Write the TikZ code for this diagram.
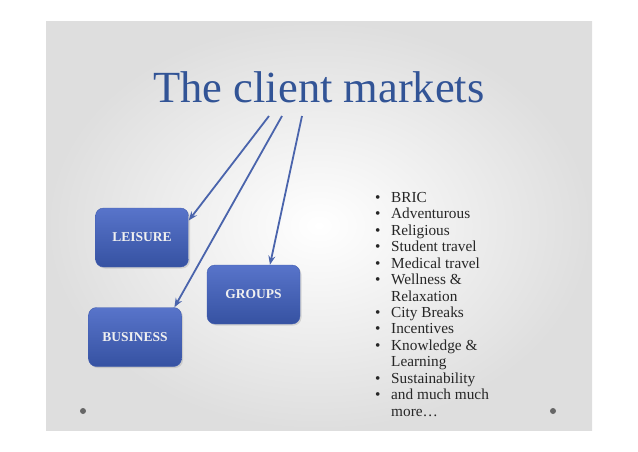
\documentclass[tikz,border=0pt]{standalone}
\usepackage{fontspec}
\setmainfont{Liberation Serif}
\usetikzlibrary{arrows.meta,shadows}
\definecolor{slidegrey}{RGB}{222,222,222}
\definecolor{titleblue}{RGB}{50,84,150}
\definecolor{boxtop}{RGB}{88,116,202}
\definecolor{boxbottom}{RGB}{54,82,162}
\definecolor{boxedge}{RGB}{66,94,176}
\definecolor{arrowblue}{RGB}{74,100,172}
\newcommand{\topicbullet}{\makebox[16pt][l]{\textbullet}}
\newcommand{\topicindent}{\hspace*{16pt}}
\tikzset{
  market/.style={draw=boxedge, rounded corners=8pt, top color=boxtop, bottom color=boxbottom,
    minimum width=93pt, minimum height=59pt, text=white!94!black,
    font=\fontsize{13.5}{16}\selectfont\bfseries,
    drop shadow={opacity=0.25, shadow xshift=1.5pt, shadow yshift=-1.5pt}},
  link/.style={-{Stealth[length=9pt,width=7pt]}, draw=arrowblue, line width=1.8pt}
}

\begin{document}
\begin{tikzpicture}[x=1pt,y=-1pt]
        % Slide
        \useasboundingbox (0,0) rectangle (638,451);
        \shade[inner color=white, outer color=slidegrey] (46,21) rectangle (592,430);
        \fill[gray!80!black] (83,411) circle (3) (553,411) circle (3);

        % Title
        \draw (319,102) node[anchor=base, text=titleblue, font=\fontsize{44.5}{50}\selectfont] (title) {The client markets};

        % Markets
        \draw (142,237.5) node[market] (leisure) {LEISURE};
        \draw (253.5,294.5) node[market] (groups) {GROUPS};
        \draw (135,337) node[market] (business) {BUSINESS};

        % Arrows from the title
        \coordinate (fromL) at (269,116);
        \coordinate (fromB) at (282,116);
        \coordinate (fromG) at (302,116);
        \draw[link] (fromL) -- (leisure.20);
        \draw[link] (fromB) -- (business.37);
        \draw[link] (fromG) -- (groups.61);

        % Topics
        \draw (375,192) node[anchor=north west, inner sep=0pt, align=left, text=black!85,
            font=\fontsize{15.3}{16.45}\selectfont] (topics) {\topicbullet BRIC\\
            \topicbullet Adventurous\\
            \topicbullet Religious\\
            \topicbullet Student travel\\
            \topicbullet Medical travel\\
            \topicbullet Wellness \&\\
            \topicindent Relaxation\\
            \topicbullet City Breaks\\
            \topicbullet Incentives\\
            \topicbullet Knowledge \&\\
            \topicindent Learning\\
            \topicbullet Sustainability\\
            \topicbullet and much much\\
            \topicindent more\ldots};
\end{tikzpicture}
\end{document}
